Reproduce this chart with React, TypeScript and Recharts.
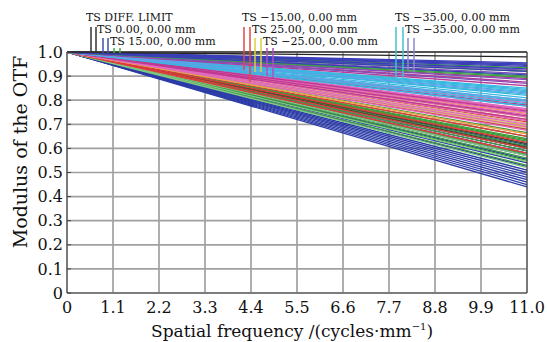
import { LineChart, Line, XAxis, YAxis, CartesianGrid, ReferenceLine } from "recharts";

// spatial frequency endpoints of every curve (cycles/mm)
const freq = [0, 11];
const mtfAtZero = 1;

const xTicks = [0, 1.1, 2.2, 3.3, 4.4, 5.5, 6.6, 7.7, 8.8, 9.9, 11.0];
const yTicks = [0, 0.1, 0.2, 0.3, 0.4, 0.5, 0.6, 0.7, 0.8, 0.9, 1.0];

// MTF value at 11 cycles/mm, grouped by line colour
const blueLow = [0.615, 0.6, 0.59, 0.58, 0.57, 0.555, 0.54, 0.525, 0.51, 0.5, 0.49, 0.48, 0.47, 0.46, 0.45, 0.44];
const greenMid = [0.68, 0.665, 0.65, 0.64, 0.635, 0.63, 0.62, 0.61, 0.6, 0.59, 0.575, 0.56, 0.55, 0.53];
const lightGreen = [0.57, 0.545, 0.52];
const darkMid = [0.62, 0.605];
const redMid = [0.76, 0.71, 0.68, 0.65, 0.625, 0.6, 0.58];
const tanMid = [0.705, 0.685, 0.66];
const orangeMid = [0.745, 0.72, 0.69, 0.66];
const yellowMid = [0.73, 0.695];
const pinkMid = [0.79, 0.775, 0.765, 0.76, 0.75, 0.74, 0.73, 0.715, 0.7, 0.69, 0.675];
const magentaMid = [0.78, 0.755, 0.735, 0.72];
const cyanHigh = [0.85, 0.845, 0.84, 0.835, 0.825, 0.82, 0.81, 0.8, 0.795, 0.785, 0.775];
const skyHigh = [0.83, 0.8];
const magentaHigh = [0.89, 0.875, 0.86];
const purpleHigh = [0.95, 0.925, 0.91, 0.885, 0.87];
const greenHigh = [0.935, 0.92, 0.9, 0.895];
const blueHigh = [0.955, 0.95, 0.945, 0.94, 0.93, 0.92, 0.905];
const diffLimit = [0.98];

const groups = [
  { color: "#2c3ca8", ends: blueLow },
  { color: "#3c9c3c", ends: greenMid },
  { color: "#80c880", ends: lightGreen },
  { color: "#4a4030", ends: darkMid },
  { color: "#e03c3c", ends: redMid },
  { color: "#dcb890", ends: tanMid },
  { color: "#f0a040", ends: orangeMid },
  { color: "#d8d040", ends: yellowMid },
  { color: "#e068c0", ends: pinkMid },
  { color: "#c03890", ends: magentaMid },
  { color: "#38b8e0", ends: cyanHigh },
  { color: "#60a0e8", ends: skyHigh },
  { color: "#b83a98", ends: magentaHigh },
  { color: "#8050b8", ends: purpleHigh },
  { color: "#3aa040", ends: greenHigh },
  { color: "#3a3fb8", ends: blueHigh },
  { color: "#222222", ends: diffLimit },
];

const series: { key: string; color: string; end: number }[] = [];
groups.forEach((g) => g.ends.forEach((e) => series.push({ key: "s" + series.length, color: g.color, end: e })));

const data = freq.map((f, i) => {
  const row: Record<string, number> = { f };
  series.forEach((s) => (row[s.key] = i === 0 ? mtfAtZero : s.end));
  return row;
});

// legend labels: text, text x, baseline, mark colour, mark xs, mark bottoms
const legend = [
  { text: "TS DIFF. LIMIT", x: 86, y: 21, color: "#333", marks: [91, 96], top: 27, bottoms: [53, 53] },
  { text: "TS 0.00, 0.00 mm", x: 97, y: 33, color: "#4050b0", marks: [103, 108], top: 38, bottoms: [53, 53] },
  { text: "TS 15.00, 0.00 mm", x: 110, y: 45, color: "#40b040", marks: [114, 120], top: 48, bottoms: [53, 53] },
  { text: "TS \u221215.00, 0.00 mm", x: 242, y: 21, color: "#e04848", marks: [244, 250], top: 27, bottoms: [70, 82] },
  { text: "TS 25.00, 0.00 mm", x: 252, y: 33, color: "#d8d040", marks: [255, 261], top: 38, bottoms: [72, 72] },
  { text: "TS \u221225.00, 0.00 mm", x: 263, y: 45, color: "#b050c0", marks: [267, 273], top: 48, bottoms: [76, 78] },
  { text: "TS \u221235.00, 0.00 mm", x: 395, y: 21, color: "#40c0d0", marks: [396, 403], top: 27, bottoms: [80, 87] },
  { text: "TS \u221235.00, 0.00 mm", x: 405, y: 33, color: "#8a88c8", marks: [408, 414], top: 38, bottoms: [70, 72] },
];

const serif = "DejaVu Serif";
const fmt = (v: number) => (v === 0 ? "0" : v.toFixed(1));

export default function App() {
  return (
    <div style={{ position: "fixed", left: 0, top: 0, width: 547, height: 342, background: "#fff" }}>
      <LineChart width={547} height={342} data={data} margin={{ top: 52, right: 0, bottom: 0, left: 0 }}>
        <CartesianGrid yAxisId="l" stroke="#a0a0a0" strokeWidth={1.7} />
        <XAxis
          dataKey="f"
          type="number"
          domain={[0, 11]}
          ticks={xTicks}
          tickFormatter={fmt}
          interval={0}
          height={49}
          tickLine={false}
          tickMargin={3}
          stroke="#444"
          tick={{ fill: "#111", fontFamily: serif, fontSize: 16 }}
        />
        <YAxis
          yAxisId="l"
          domain={[0, 1]}
          ticks={yTicks}
          tickFormatter={fmt}
          interval={0}
          width={67}
          tickSize={-4}
          tickMargin={8}
          stroke="#444"
          tick={{ fill: "#111", fontFamily: serif, fontSize: 16 }}
        />
        <YAxis
          yAxisId="r"
          orientation="right"
          domain={[0, 1]}
          ticks={yTicks}
          tickFormatter={() => ""}
          interval={0}
          width={20}
          tickSize={-4}
          stroke="#444"
        />
        {series.map((s) => (
          <Line
            key={s.key}
            yAxisId="l"
            dataKey={s.key}
            stroke={s.color}
            strokeWidth={1.3}
            dot={false}
            isAnimationActive={false}
          />
        ))}
        <ReferenceLine yAxisId="l" y={1} stroke="#333" strokeWidth={1.5} />
      </LineChart>
      <svg width={547} height={342} style={{ position: "absolute", left: 0, top: 0, pointerEvents: "none" }}>
        {legend.map((l, i) => (
          <g key={i}>
            <text x={l.x} y={l.y} fontFamily={serif} fontSize={11} fill="#111">
              {l.text}
            </text>
            {l.marks.map((mx, j) => (
              <line key={j} x1={mx} x2={mx} y1={l.top} y2={l.bottoms[j]} stroke={l.color} strokeWidth={1.5} />
            ))}
          </g>
        ))}
        <text x={292} y={337} textAnchor="middle" fontFamily={serif} fontSize={17} fill="#111">
          Spatial frequency /(cycles{"\u00b7"}mm
          <tspan dy={-7} fontSize={10}>{"\u22121"}</tspan>
          <tspan dy={7}>)</tspan>
        </text>
        <text x={27} y={152} transform="rotate(-90 27 152)" textAnchor="middle" fontFamily={serif} fontSize={19} fill="#111">
          Modulus of the OTF
        </text>
      </svg>
    </div>
  );
}
